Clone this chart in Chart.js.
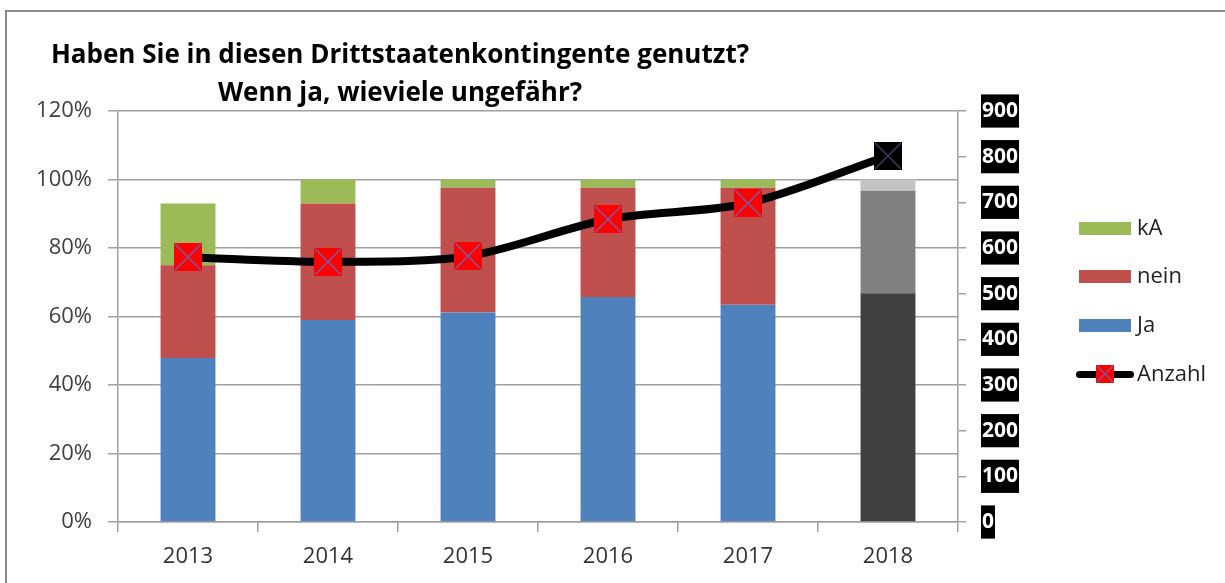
<!DOCTYPE html>
<html>
<head>
<meta charset="utf-8">
<script src="https://cdn.jsdelivr.net/npm/chart.js@4.4.0/dist/chart.umd.min.js"></script>
<style>
  html, body { margin: 0; padding: 0; background: #fff; overflow: hidden; }
  #wrap { position: relative; width: 1225px; height: 583px; font-family: "Open Sans", sans-serif; }
  #frame { position: absolute; left: 5px; top: 10px; width: 1400px; height: 800px; border: 2px solid #8a8a8a; }
  #mycanvas { position: absolute; left: 0; top: 0; }
  #title { position: absolute; left: 0; width: 800px; top: 34px; text-align: center;
           font-weight: bold; font-size: 26px; line-height: 38px; color: #000; }
  .leg { position: absolute; left: 1076px; font-size: 22px; color: #222; height: 30px; line-height: 30px; }
  .leg .box { position: absolute; left: 3px; top: 9px; width: 52px; height: 13px; }
  .leg .txt { position: absolute; left: 61px; top: -2px; white-space: nowrap; }
  .leg .ln { position: absolute; left: 0; top: 12px; width: 58px; height: 7px; background: #000; border-radius: 4px; }
  .leg .mk { position: absolute; left: 20px; top: 6px; width: 18px; height: 18px; }
</style>
</head>
<body>
<div id="wrap">
  <div id="frame"></div>
  <canvas id="mycanvas" width="1225" height="583"></canvas>
  <div id="title">Haben Sie in diesen Drittstaatenkontingente genutzt?<br>Wenn ja, wieviele ungefähr?</div>
  <div class="leg" style="top:213px"><div class="box" style="background:#9BBB59"></div><div class="txt">kA</div></div>
  <div class="leg" style="top:261px"><div class="box" style="background:#C0504D"></div><div class="txt">nein</div></div>
  <div class="leg" style="top:310px"><div class="box" style="background:#4F81BD"></div><div class="txt">Ja</div></div>
  <div class="leg" style="top:359px"><div class="ln"></div><canvas class="mk" id="legmark" width="18" height="18"></canvas><div class="txt">Anzahl</div></div>
</div>
<script>
var years = ['2013', '2014', '2015', '2016', '2017', '2018'];
var ja_data = [47.9, 59.0, 61.2, 65.7, 63.4, 66.8];
var nein_data = [27.1, 34.0, 36.4, 31.9, 34.2, 29.9];
var ka_data = [18.0, 7.0, 2.4, 2.4, 2.4, 3.3];
var anzahl_data = [580, 570, 582, 663, 698, 802];

var ja_colors = ['#4F81BD', '#4F81BD', '#4F81BD', '#4F81BD', '#4F81BD', '#404040'];
var nein_colors = ['#C0504D', '#C0504D', '#C0504D', '#C0504D', '#C0504D', '#808080'];
var ka_colors = ['#9BBB59', '#9BBB59', '#9BBB59', '#9BBB59', '#9BBB59', '#C3C3C3'];

function makeMarker(size, fill, cross) {
  var c = document.createElement('canvas');
  c.width = size; c.height = size;
  var g = c.getContext('2d');
  g.fillStyle = fill;
  g.fillRect(0, 0, size, size);
  g.strokeStyle = cross;
  g.lineWidth = 1.5;
  g.beginPath();
  g.moveTo(1, 1); g.lineTo(size - 1, size - 1);
  g.moveTo(size - 1, 1); g.lineTo(1, size - 1);
  g.stroke();
  return c;
}
var redMark = makeMarker(28, '#FF0000', '#7460A8');
var blackMark = makeMarker(28, '#000000', '#4A3868');

// legend marker
(function(){
  var g = document.getElementById('legmark').getContext('2d');
  g.fillStyle = '#FF0000'; g.fillRect(0, 0, 18, 18);
  g.strokeStyle = '#7460A8'; g.lineWidth = 1.2;
  g.beginPath(); g.moveTo(1,1); g.lineTo(17,17); g.moveTo(17,1); g.lineTo(1,17); g.stroke();
})();

var pointStyles = [];
for (var i in years) {
  pointStyles.push(years[i] === '2018' ? blackMark : redMark);
}

var fontFam = '"Open Sans", sans-serif';
var axisGray = '#A0A0A0';

var chartdata = {
  labels: years,
  datasets: [
    {
      type: 'line',
      label: 'Anzahl',
      yAxisID: 'y2',
      order: 0,
      data: anzahl_data,
      borderColor: '#000',
      borderWidth: 8,
      tension: 0.3,
      fill: false,
      pointStyle: pointStyles,
      pointRadius: 14
    },
    { label: 'Ja', data: ja_data, backgroundColor: ja_colors, order: 1, stack: 's' },
    { label: 'nein', data: nein_data, backgroundColor: nein_colors, order: 1, stack: 's' },
    { label: 'kA', data: ka_data, backgroundColor: ka_colors, order: 1, stack: 's' }
  ]
};

var ctx = document.getElementById('mycanvas');
var chart = new Chart(ctx, {
  type: 'bar',
  data: chartdata,
  options: {
    responsive: false,
    animation: false,
    layout: { padding: { top: 111, left: 0, right: 0, bottom: 0 } },
    plugins: { legend: { display: false }, tooltip: { enabled: false }, title: { display: false } },
    datasets: { bar: { barPercentage: 0.8, categoryPercentage: 0.49 } },
    scales: {
      x: {
        stacked: true,
        afterFit: function(s){ s.height = 61; },
        grid: { drawOnChartArea: false, color: axisGray, lineWidth: 1.5, tickLength: 10, offset: true },
        border: { color: axisGray, width: 1.5 },
        ticks: { color: '#333', padding: 12, font: { family: fontFam, size: 22 } }
      },
      y: {
        stacked: true,
        position: 'left',
        min: 0, max: 120,
        afterFit: function(s){ s.width = 118; },
        grid: { color: axisGray, lineWidth: 1.5, tickLength: 10 },
        border: { color: axisGray, width: 1.5 },
        ticks: { stepSize: 20, color: '#404040', padding: 16, font: { family: fontFam, size: 22 },
                 callback: function(v){ return Math.round(v) + '%'; } }
      },
      y2: {
        position: 'right',
        min: 0, max: 900,
        afterFit: function(s){ s.width = 267; },
        grid: { drawOnChartArea: false, color: axisGray, lineWidth: 1.5, tickLength: 8 },
        border: { color: axisGray, width: 1.5 },
        ticks: { stepSize: 100, color: '#fff', padding: 16, font: { family: fontFam, size: 21, weight: 'bold' },
                 showLabelBackdrop: true, backdropColor: '#000', backdropPadding: { x: 1, y: 4 } }
      }
    }
  }
});
</script>
</body>
</html>
